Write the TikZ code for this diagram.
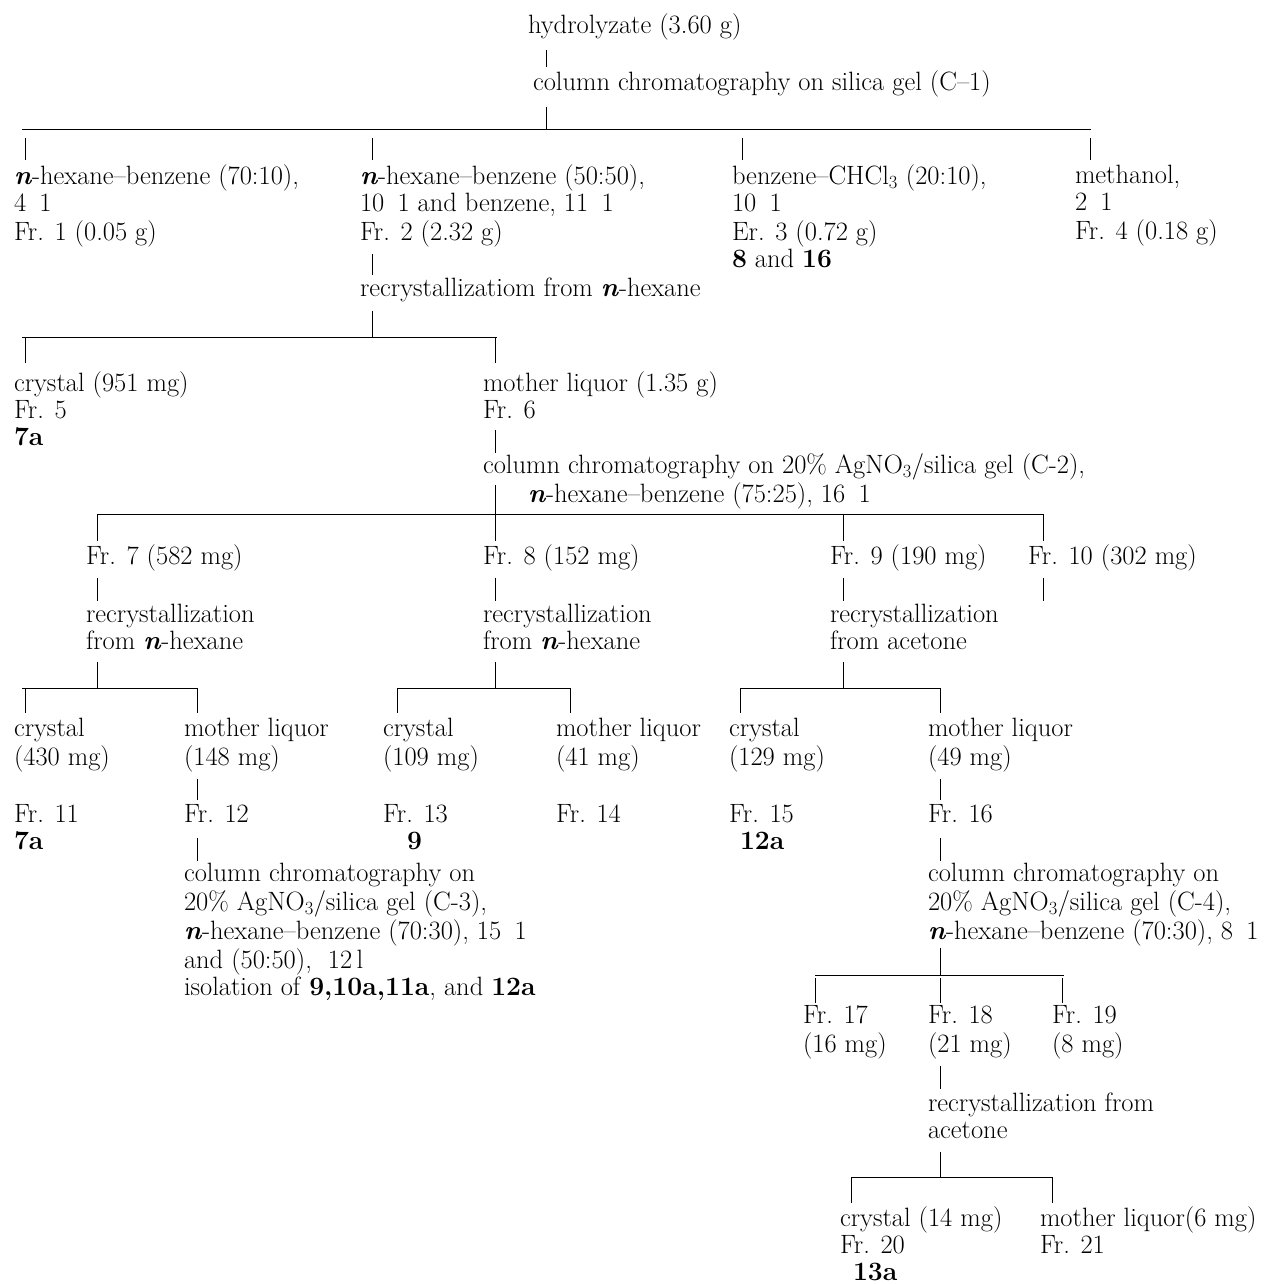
\documentclass[tikz,border=0pt]{standalone}
\usepackage{tikz}
\newcommand\hexn{\textbf{\textit{n}}}
\newcommand\gp{\enspace}
\begin{document}
\begin{tikzpicture}[x=1pt,y=-1pt,
  txt/.style={anchor=north west,inner sep=0pt,outer sep=0pt,align=left},
  bar/.style={line width=1.0pt},
  tick/.style={line width=0.8pt},
  font=\fontsize{26.5}{27}\selectfont]
\useasboundingbox (0,0) rectangle (1265,1284);
% ---------- texts ----------
\node[txt] (hyd) at (528,13.6) {\strut hydrolyzate (3.60 g)};
\node[txt] (cc1) at (533,70.6) {\strut column chromatography on silica gel (C--1)};
\node[txt] (c1a) at (14,164.6) {\strut\hexn-hexane--benzene (70:10),\\\strut 4\gp 1\\\strut Fr. 1 (0.05 g)};
\node[txt] (c1b) at (360,164.6) {\strut\hexn-hexane--benzene (50:50),\\\strut 10\gp 1 and benzene, 11\gp 1\\\strut Fr. 2 (2.32 g)};
\node[txt] (c1c) at (732,164.6) {\strut benzene--CHCl\textsubscript{3} (20:10),\\\strut 10\gp 1\\\strut Er. 3 (0.72 g)\\\strut\textbf{8} and \textbf{16}};
\node[txt] (c1d) at (1075,164.6) {\strut methanol,\\\strut 2\gp 1\\\strut Fr. 4 (0.18 g)};
\node[txt] (rec1) at (360,277.6) {\strut recrystallizatiom from \hexn-hexane};
\node[txt] (cr5) at (14,371.6) {\strut crystal (951 mg)\\\strut Fr. 5\\\strut\textbf{7a}};
\node[txt] (ml6) at (483,371.6) {\strut mother liquor (1.35 g)\\\strut Fr. 6};
\node[txt] (cc2) at (483,453.6) {\strut column chromatography on 20\% AgNO\textsubscript{3}/silica gel (C-2),\\\strut\hspace*{45pt}\hexn-hexane--benzene (75:25), 16\gp 1};
\node[txt] (fr7) at (86,544.6) {\strut Fr. 7 (582 mg)};
\node[txt] (fr8) at (483,544.6) {\strut Fr. 8 (152 mg)};
\node[txt] (fr9) at (830,544.6) {\strut Fr. 9 (190 mg)};
\node[txt] (fr10) at (1028,544.6) {\strut Fr. 10 (302 mg)};
\node[txt] (rec7) at (86,603.6) {\strut recrystallization\\\strut from \hexn-hexane};
\node[txt] (rec8) at (483,603.6) {\strut recrystallization\\\strut from \hexn-hexane};
\node[txt] (rec9) at (830,603.6) {\strut recrystallization\\\strut from acetone};
\node[txt] (cr11) at (14,717.6) {\strut crystal\\\strut (430 mg)};
\node[txt] (ml12) at (184,717.6) {\strut mother liquor\\\strut (148 mg)};
\node[txt] (cr13) at (383,717.6) {\strut crystal\\\strut (109 mg)};
\node[txt] (ml14) at (556,717.6) {\strut mother liquor\\\strut (41 mg)};
\node[txt] (cr15) at (729,717.6) {\strut crystal\\\strut (129 mg)};
\node[txt] (ml16) at (928,717.6) {\strut mother liquor\\\strut (49 mg)};
\node[txt] (fr11) at (14,803.6) {\strut Fr. 11\\\strut\textbf{7a}};
\node[txt] (fr12) at (184,803.6) {\strut Fr. 12};
\node[txt] (fr13) at (383,803.6) {\strut Fr. 13\\\strut\hspace*{24pt}\textbf{9}};
\node[txt] (fr14) at (556,803.6) {\strut Fr. 14};
\node[txt] (fr15) at (729,803.6) {\strut Fr. 15\\\strut\hspace*{11pt}\textbf{12a}};
\node[txt] (fr16) at (928,803.6) {\strut Fr. 16};
\node[txt] (cc3) at (184,862.6) {\strut column chromatography on\\\strut 20\% AgNO\textsubscript{3}/silica gel (C-3),\\\strut\hexn-hexane--benzene (70:30), 15\gp 1\\\strut and (50:50),\ \ 12\,l\\\strut isolation of \textbf{9,10a,11a}, and \textbf{12a}};
\node[txt] (cc4) at (928,862.6) {\strut column chromatography on\\\strut 20\% AgNO\textsubscript{3}/silica gel (C-4),\\\strut\hexn-hexane--benzene (70:30), 8\gp 1};
\node[txt] (fr17) at (803,1004.6) {\strut Fr. 17\\\strut (16 mg)};
\node[txt] (fr18) at (928,1004.6) {\strut Fr. 18\\\strut (21 mg)};
\node[txt] (fr19) at (1052,1004.6) {\strut Fr. 19\\\strut (8 mg)};
\node[txt] (rec18) at (928,1092.6) {\strut recrystallization from\\\strut acetone};
\node[txt] (cr20) at (840,1206.6) {\strut crystal (14 mg)\\\strut Fr. 20\\\strut\hspace*{13pt}\textbf{13a}};
\node[txt] (ml21) at (1040,1206.6) {\strut mother liquor(6 mg)\\\strut Fr. 21};
% ---------- bar junctions ----------
\coordinate (j1) at (546,130);
\coordinate (j2) at (372,337);
\coordinate (j3) at (495,514);
\coordinate (j7) at (97,688);
\coordinate (j8) at (495,688);
\coordinate (j9) at (843,688);
\coordinate (j16) at (940,975);
\coordinate (j18) at (940,1177);
% ---------- bars ----------
\draw[bar] (22,130) -- (1091,130);
\draw[bar] (22,337) -- (497,337);
\draw[bar] (97,514) -- (1044,514);
\draw[bar] (22,688) -- (198,688);
\draw[bar] (397,688) -- (571,688);
\draw[bar] (740,688) -- (941,688);
\draw[bar] (815,975) -- (1064,975);
\draw[bar] (851,1177) -- (1053,1177);
% ---------- connectors ----------
\draw[tick] ([shift={(18,8)}]hyd.south west) -- ([shift={(13,-4)}]cc1.north west);
\draw[tick] ([shift={(13,8)}]cc1.south west) -- (j1);
\foreach \n/\dx in {c1a/11,c1b/12,c1c/10,c1d/15}
  \draw[tick] ([shift={(\dx,-5)}]\n.north west) -- ++(0,-22);
\draw[tick] ([shift={(12,6)}]c1b.south west) -- ([shift={(12,-3)}]rec1.north west);
\draw[tick] ([shift={(12,6)}]rec1.south west) -- (j2);
\foreach \n/\dx in {cr5/11,ml6/12}
  \draw[tick] ([shift={(\dx,-9)}]\n.north west) -- ++(0,-25);
\draw[tick] ([shift={(12,3)}]ml6.south west) -- ([shift={(12,-1)}]cc2.north west);
\draw[tick] ([shift={(12,31)}]cc2.north west) -- (j3);
\foreach \n/\dx in {fr7/11,fr8/12,fr9/13,fr10/15}
  \draw[tick] ([shift={(\dx,-4)}]\n.north west) -- ++(0,-27);
\foreach \n/\dx in {fr7/11,fr8/12,fr9/13,fr10/15}
  \draw[tick] ([shift={(\dx,5)}]\n.south west) -- ++(0,23);
\draw[tick] ([shift={(11,4)}]rec7.south west) -- (j7);
\draw[tick] ([shift={(12,4)}]rec8.south west) -- (j8);
\draw[tick] ([shift={(13,4)}]rec9.south west) -- (j9);
\foreach \n/\dx in {cr11/11,ml12/13,cr13/14,ml14/14,cr15/11,ml16/12}
  \draw[tick] ([shift={(\dx,-5)}]\n.north west) -- ++(0,-24);
\draw[tick] ([shift={(13,5)}]ml12.south west) -- ([shift={(13,-4)}]fr12.north west);
\draw[tick] ([shift={(13,7)}]fr12.south west) -- ([shift={(13,-2)}]cc3.north west);
\draw[tick] ([shift={(12,5)}]ml16.south west) -- ([shift={(12,-4)}]fr16.north west);
\draw[tick] ([shift={(12,7)}]fr16.south west) -- ([shift={(12,-2)}]cc4.north west);
\draw[tick] ([shift={(12,0)}]cc4.south west) -- (j16);
\foreach \n/\dx in {fr17/12,fr18/12,fr19/10}
  \draw[tick] ([shift={(\dx,-2)}]\n.north west) -- ++(0,-25);
\draw[tick] ([shift={(12,5)}]fr18.south west) -- ([shift={(12,-4)}]rec18.north west);
\draw[tick] ([shift={(12,5)}]rec18.south west) -- (j18);
\foreach \n/\dx in {cr20/11,ml21/12}
  \draw[tick] ([shift={(\dx,-4)}]\n.north west) -- ++(0,-25);
\end{tikzpicture}
\end{document}
